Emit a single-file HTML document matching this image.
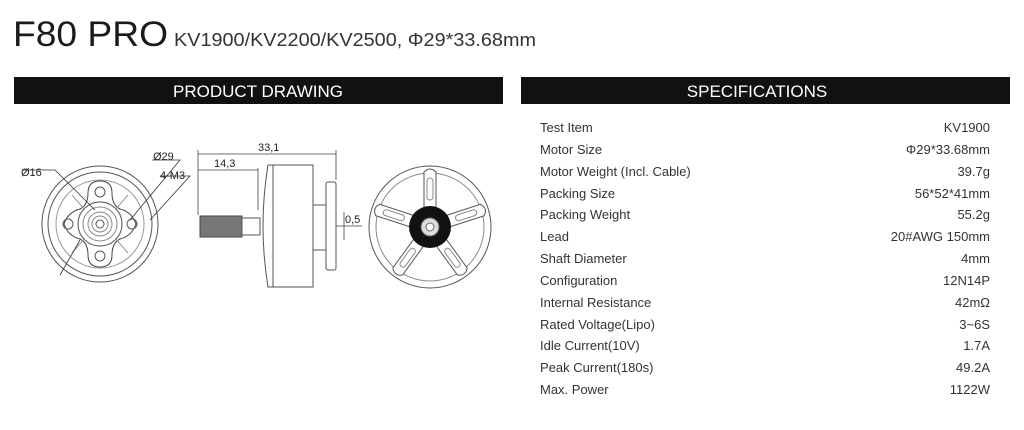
<!DOCTYPE html>
<html><head><meta charset="utf-8"><style>
html,body{margin:0;padding:0;background:#fff;width:1024px;height:430px;overflow:hidden}
svg{display:block}
text{font-family:"Liberation Sans",sans-serif}
</style></head><body>
<svg width="1024" height="430" viewBox="0 0 1024 430" xmlns="http://www.w3.org/2000/svg">
<text x="13" y="46" font-size="35" fill="#1a1a1a" textLength="155" lengthAdjust="spacingAndGlyphs">F80 PRO</text>
<text x="174" y="46" font-size="18" fill="#333" textLength="362" lengthAdjust="spacingAndGlyphs">KV1900/KV2200/KV2500, Φ29*33.68mm</text>
<rect x="14" y="77" width="489" height="27" fill="#111"/>
<text x="258" y="97" font-size="17" fill="#fff" text-anchor="middle">PRODUCT DRAWING</text>
<rect x="521" y="77" width="489" height="27" fill="#111"/>
<text x="757" y="97" font-size="17" fill="#fff" text-anchor="middle">SPECIFICATIONS</text>

<g fill="none" stroke="#555" stroke-width="1">
 <!-- front view -->
 <circle cx="100" cy="224" r="58"/>
 <circle cx="100" cy="224" r="52"/>
 <circle cx="100" cy="224" r="44" stroke="#999"/>
 <path d="M100 181 q12 0 12 12 q0 12 8 16 q12 3 16 15 q-4 12 -16 15 q-8 4 -8 16 q0 12 -12 12 q-12 0 -12 -12 q0 -12 -8 -16 q-12 -3 -16 -15 q4 -12 16 -15 q8 -4 8 -16 q0 -12 12 -12z" stroke="#444"/>
 <circle cx="100" cy="224" r="22"/>
 <circle cx="100" cy="224" r="17" stroke="#888"/>
 <circle cx="100" cy="224" r="12" stroke="#888"/>
 <circle cx="100" cy="224" r="8" stroke="#888"/>
 <circle cx="100" cy="224" r="4"/>
 <circle cx="100" cy="192" r="5"/><circle cx="100" cy="256" r="5"/>
 <circle cx="68" cy="224" r="5"/><circle cx="132" cy="224" r="5"/>
 <path d="M72 195 L85 210 M128 195 L115 210 M72 253 L85 238 M128 253 L115 238" stroke="#999"/>
 <path d="M22 170 L55 170 L95 210 M152 160 L180 160 L130 220 M160 176 L190 176 L150 220 M80 240 L60 275" stroke="#333" stroke-width=".8"/>
 <!-- side view -->
 <rect x="200" y="216" width="42" height="21" fill="#777" stroke="#444"/>
 <rect x="242" y="218" width="18" height="17" fill="#fff"/>
 <path d="M268 165 L313 165 L313 287 L268 287 Q258 226 268 165z" fill="#fff"/>
 <line x1="273" y1="165" x2="273" y2="287"/>
 <path d="M313 205 L326 205 L326 250 L313 250"/>
 <rect x="326" y="182" width="10" height="88" rx="2"/>
 <path d="M198 150 L198 215 M336 150 L336 180 M258 168 L258 210" stroke="#444" stroke-width=".8"/>
 <path d="M198 154 L336 154 M198 170 L258 170 M336 226 L362 226 M344 212 L344 240" stroke="#444" stroke-width=".8"/>
 <!-- rear view -->
 <circle cx="430" cy="227" r="61"/>
 <circle cx="430" cy="227" r="54" stroke="#888"/>
 <g id="sp"><path d="M424 207 L424 172 Q430 166 436 172 L436 207" fill="#fff"/><rect x="427" y="178" width="6" height="22" rx="3" stroke="#888"/></g>
 <use href="#sp" transform="rotate(72 430 227)"/>
 <use href="#sp" transform="rotate(144 430 227)"/>
 <use href="#sp" transform="rotate(216 430 227)"/>
 <use href="#sp" transform="rotate(288 430 227)"/>
</g>
<circle cx="430" cy="227" r="21" fill="#111"/>
<circle cx="430" cy="227" r="9" fill="#ddd" stroke="#666"/>
<circle cx="430" cy="227" r="4" fill="#fff" stroke="#666"/>
<g font-size="11" fill="#222">
 <text x="21" y="176">Ø16</text>
 <text x="153" y="160">Ø29</text>
 <text x="160" y="179">4-M3</text>
 <text x="258" y="151">33,1</text>
 <text x="214" y="167">14,3</text>
 <text x="345" y="223">0,5</text>
</g>
<g font-size="13" fill="#333">
 <text x="540" y="132">Test Item</text><text x="990" y="132" text-anchor="end">KV1900</text>
 <text x="540" y="154">Motor Size</text><text x="990" y="154" text-anchor="end">Φ29*33.68mm</text>
 <text x="540" y="176">Motor Weight (Incl. Cable)</text><text x="990" y="176" text-anchor="end">39.7g</text>
 <text x="540" y="198">Packing Size</text><text x="990" y="198" text-anchor="end">56*52*41mm</text>
 <text x="540" y="219">Packing Weight</text><text x="990" y="219" text-anchor="end">55.2g</text>
 <text x="540" y="241">Lead</text><text x="990" y="241" text-anchor="end">20#AWG 150mm</text>
 <text x="540" y="263">Shaft Diameter</text><text x="990" y="263" text-anchor="end">4mm</text>
 <text x="540" y="285">Configuration</text><text x="990" y="285" text-anchor="end">12N14P</text>
 <text x="540" y="307">Internal Resistance</text><text x="990" y="307" text-anchor="end">42mΩ</text>
 <text x="540" y="329">Rated Voltage(Lipo)</text><text x="990" y="329" text-anchor="end">3~6S</text>
 <text x="540" y="350">Idle Current(10V)</text><text x="990" y="350" text-anchor="end">1.7A</text>
 <text x="540" y="372">Peak Current(180s)</text><text x="990" y="372" text-anchor="end">49.2A</text>
 <text x="540" y="394">Max. Power</text><text x="990" y="394" text-anchor="end">1122W</text>
</g>
</svg>
</body></html>
